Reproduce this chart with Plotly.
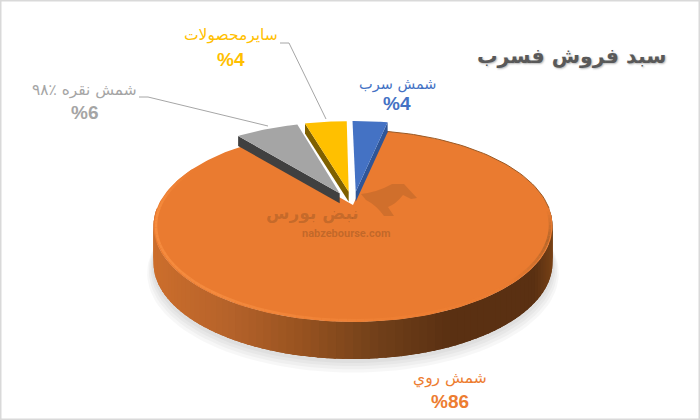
import math
import plotly.graph_objects as go

# ---- data (clockwise from 12 o'clock) ----
categories = ["شمش سرب", "شمش روي", "شمش نقره ٪۹۸", "سایرمحصولات"]
shares = [3.6, 85.7, 6.4, 4.3]
shown_pct = [4, 86, 6, 4]
title_text = "سبد فروش فسرب"
watermark_fa = "نبض بورس"
watermark_en = "nabzebourse.com"

FACE = {0: "#4472c4", 1: "#ea7b30", 2: "#a5a5a5", 3: "#ffc000"}
WALL = {0: "#2f5597", 2: "#404040", 3: "#7f6000"}
TXT = {0: "#4472c4", 1: "#ed7d31", 2: "#a5a5a5", 3: "#ffc000"}
FONT = "DejaVu Sans"

CX, CY, A, B, K = 353.0, 205.0, 194.7, 91.4, 0.2188
DEPTH, SMALL_DEPTH, EXPLODE, START = 37.0, 10.0, 0.15, -1.0


def project(u, v):
    w = 1 - K * v
    return CX + A * u / w, CY + B * v / w


def pt(theta, r=1.0, off=(0.0, 0.0)):
    t = math.radians(theta)
    return project(r * math.sin(t) + off[0], -r * math.cos(t) + off[1])


def arc(t0, t1, r=1.0, off=(0.0, 0.0), n=60):
    return [pt(t0 + (t1 - t0) * i / n, r, off) for i in range(n + 1)]


def hexrgb(c):
    return tuple(int(c[i:i + 2], 16) for i in (1, 3, 5))


def mix(stops, x):
    if x <= stops[0][0]:
        return stops[0][1]
    for (x0, c0), (x1, c1) in zip(stops, stops[1:]):
        if x <= x1:
            f = (x - x0) / (x1 - x0)
            a, b = hexrgb(c0), hexrgb(c1)
            return "#%02x%02x%02x" % tuple(round(a[i] + (b[i] - a[i]) * f) for i in range(3))
    return stops[-1][1]


fig = go.Figure()


def poly(points, fill, line=None, lw=0.0):
    fig.add_trace(go.Scatter(
        x=[p[0] for p in points] + [points[0][0]],
        y=[p[1] for p in points] + [points[0][1]],
        mode="lines", fill="toself", fillcolor=fill,
        line=dict(color=line or fill, width=lw), hoverinfo="skip", showlegend=False))


def path(points, color, width):
    fig.add_trace(go.Scatter(
        x=[p[0] for p in points], y=[p[1] for p in points], mode="lines",
        line=dict(color=color, width=width), hoverinfo="skip", showlegend=False))


# angular extents
edges = [START]
for s in shares:
    edges.append(edges[-1] + s * 3.6)

# soft shadow under the disc
for grow, extra in ((1.03, 9), (1.022, 7), (1.014, 5), (1.007, 3)):
    poly([(x, y + DEPTH + extra) for x, y in arc(85, 275, grow, n=80)], "rgba(0,0,0,0.03)")

# big slice side wall, shaded along x (painted back to front as overlapping bands)
wall_stops = [(153, "#cc6e2c"), (230, "#b5622a"), (300, "#985320"), (380, "#703f19"),
              (450, "#5a3012"), (535, "#5a3012"), (553, "#784216")]
n = 90
for i in range(n):
    t0, t1 = 92 + 176 * i / n, 92 + 176 * (i + 1) / n
    t2 = min(t1 + 2.5, 268)
    p0, p1 = pt(t0), pt(t2)
    col = mix(wall_stops, pt((t0 + t1) / 2)[0])
    poly([p0] + arc(t0, t2, n=4) + [(x, y + DEPTH) for x, y in arc(t2, t0, n=4)], col)

# big slice top face
poly([(CX, CY)] + arc(edges[1], edges[2], n=200), FACE[1])

# rim light on the front edge of the big slice
rim_stops = [(92, "#ea7b30"), (110, "#b5662a"), (135, "#ea7b30"), (170, "#ee7f33"),
             (215, "#f48a3e"), (265, "#f68c3e"), (295, "#ea7b30")]
for i in range(100):
    t0, t1 = 92 + 203 * i / 100, 92 + 203 * (i + 1) / 100
    path(arc(t0, t1, 0.988, n=2), mix(rim_stops, t0), 2.6)
path(arc(edges[1], 92, 1.0, n=40), "#9a5a26", 1.0)

# exploded slices
for idx in (0, 2, 3):
    t0, t1 = edges[idx], edges[idx + 1]
    mid = math.radians((t0 + t1) / 2)
    off = (EXPLODE * math.sin(mid), -EXPLODE * math.cos(mid))
    apex = project(*off)
    outer = arc(t0, t1, 1.0, off, n=24)
    side = outer[-1] if idx == 0 else outer[0]
    poly([apex, side, (side[0], side[1] + SMALL_DEPTH), (apex[0], apex[1] + SMALL_DEPTH)], WALL[idx])
    poly([apex] + outer, FACE[idx])

# leader lines
path([(280, 43), (289, 43), (326, 119)], "#a6a6a6", 1.0)
path([(139, 97), (148, 97), (268, 126)], "#a6a6a6", 1.0)

# labels
label_pos = [(397, 84, 103), (450, 378, 401), (84, 90, 112), (231, 35, 59)]
label_size = [14.5, 15.5, 15.4, 15.5]
ann = []
for i, (lx, y1, y2) in enumerate(label_pos):
    ann.append(dict(x=lx, y=y1, text=categories[i], showarrow=False, xref="x", yref="y",
                    font=dict(family=FONT, size=label_size[i], color=TXT[i])))
    ann.append(dict(x=lx, y=y2, text="%" + str(shown_pct[i]), showarrow=False, xref="x", yref="y",
                    font=dict(family="Liberation Sans", size=19, color=TXT[i], weight="bold")))
ann.append(dict(x=572, y=56, text=title_text, showarrow=False, xref="x", yref="y",
                font=dict(family=FONT, size=20.5, color="#595959", weight="bold",
                          shadow="1px 1px 2px #b5b5b5")))
ann.append(dict(x=312, y=213, text=watermark_fa, showarrow=False, xref="x", yref="y",
                font=dict(family=FONT, size=17, color="rgba(120,70,30,0.32)", weight="bold")))
ann.append(dict(x=346, y=233, text=watermark_en, showarrow=False, xref="x", yref="y",
                font=dict(family="Roboto", size=11, color="rgba(120,70,30,0.36)", weight="bold")))

shapes = [
    dict(type="path", xref="x", yref="y", line=dict(width=0), fillcolor="rgba(120,70,30,0.22)",
         path="M 361,194 Q 378,192 392,184 L 404,184 L 417,198 L 411,199 L 403,195 "
              "Q 396,204 388,207 L 394,216 L 384,216 Q 376,205 366,200 Z"),
    dict(type="rect", xref="paper", yref="paper", x0=0, x1=1, y0=0, y1=1,
         line=dict(color="#d9d9d9", width=3), layer="above"),
]

fig.update_layout(
    width=700, height=420, margin=dict(l=0, r=0, t=0, b=0),
    paper_bgcolor="white", plot_bgcolor="white", showlegend=False,
    xaxis=dict(range=[0, 700], visible=False, fixedrange=True),
    yaxis=dict(range=[420, 0], visible=False, fixedrange=True),
    annotations=ann, shapes=shapes,
)
fig.write_html("out.html", config={"displayModeBar": False},
               post_script="document.body.style.margin='0';document.documentElement.style.overflow='hidden';")
